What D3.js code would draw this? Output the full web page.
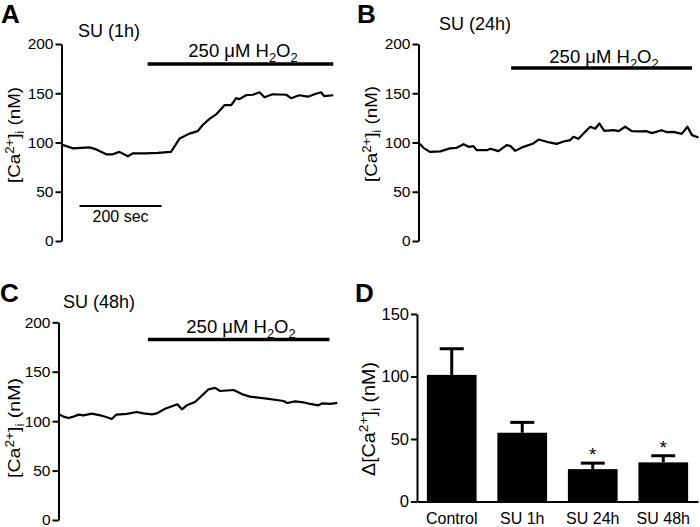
<!DOCTYPE html>
<html><head><meta charset="utf-8">
<script src="https://cdn.jsdelivr.net/npm/d3@7/dist/d3.min.js"></script>
<style>body{margin:0;background:#fff}svg{display:block}</style>
</head><body>
<svg id="c" width="700" height="527"></svg>
<script>
// ---------- data ----------
const tracesTicks = [0, 50, 100, 150, 200];
const barTicks = [0, 50, 100, 150];

// Panel A: SU (1h) — time (s), [Ca2+]i (nM)
const timeA = [0,28,68,85,109,125,141,162,174,206,235,267,288,312,332,345,361,377,398,414,426,434,450,467,483,495,515,548,560,580,601,617,633,641,663];
const caA   = [98,94,95,93,88,88,90.5,86,89,89,89.5,90.5,104,109,111.5,118,124,128.5,138,138,145,144,148,148.5,151,146,149,148.5,145,148,146.5,149,151,147,148];
// Panel B: SU (24h)
const timeB = [0,12,28,53,77,93,110,122,134,142,167,175,195,215,225,236,256,280,293,313,337,354,370,378,390,402,419,431,441,453,476,488,504,520,541,557,569,593,606,622,642,656,667,683];
const caB   = [99.7,94.6,90.5,91,94,94.6,98.3,95.6,96.3,92.2,92.2,93.6,91.2,97.3,96.3,91.5,95.6,99,103,100.7,98.6,101,102.4,105.8,103.7,109,116,114,119.3,111.9,112.5,111.5,116,111.5,111.2,111.5,109.5,112.5,110.5,110.8,108.8,116,107.5,105];
// Panel C: SU (48h)
const timeC = [0,12,24,37,49,61,81,102,118,130,141,167,191,207,228,240,260,285,290,301,313,333,350,366,382,394,427,451,467,508,532,549,558,577,598,614,634,643,663,680];
const caC   = [107.3,104.6,103.2,104.6,106.6,105.9,107.6,105.9,103.9,102.2,106.6,107.3,109.3,107.9,106.9,107.9,112.6,116.4,117,112,116,119.4,126,132.2,133.6,130.5,131.5,126.8,124.8,122.8,121.4,120.4,118.4,120,119,117.4,116,118,117.4,118.4];

// H2O2 application windows (s)
const h2o2A = [210, 663];
const h2o2B = [226, 667];
const h2o2C = [218, 661];
const scaleBarSec = [44, 244]; // 200 sec

// Panel D
const categories = ["Control", "SU 1h", "SU 24h", "SU 48h"];
const barMeans = [101.3, 55, 25.9, 31.3];
const barSEM = [20.9, 8.3, 4.8, 5.3];
const barSig = ["", "", "*", "*"];

// ---------- helpers ----------
const FONT = "'Liberation Sans', Arial, Helvetica, sans-serif";
const svg = d3.select("#c");

function rich(textSel, parts, fs) {
  let cur = 0;
  parts.forEach(p => {
    const target = p.sup ? -0.38 * fs : p.sub ? 0.25 * fs : 0;
    textSel.append("tspan").attr("dy", target - cur)
      .attr("font-size", (p.sup || p.sub) ? fs * 0.7 : fs).text(p.t);
    cur = target;
  });
}
const caParts = [{t:"[Ca"},{t:"2+",sup:true},{t:"]"},{t:"i",sub:true},{t:" (nM)"}];
const h2o2Parts = [{t:"250 \u03bcM H"},{t:"2",sub:true},{t:"O"},{t:"2",sub:true}];

function styleAxis(g, fs) {
  g.selectAll("path.domain").attr("stroke", "#000").attr("stroke-width", 2);
  g.selectAll(".tick line").attr("stroke", "#000").attr("stroke-width", 2);
  g.selectAll(".tick text").attr("fill", "#000").attr("font-family", FONT).attr("font-size", fs);
}

function yLabel(g, x, y, len, parts, fs) {
  const t = g.append("text").attr("transform", `translate(${x},${y}) rotate(-90)`)
    .attr("text-anchor", "middle").attr("font-family", FONT).attr("font-size", fs)
    .attr("textLength", len).attr("lengthAdjust", "spacingAndGlyphs");
  rich(t, parts, fs);
}

function tracePanel(cfg) {
  const y = d3.scaleLinear().domain([0, 200]).range([cfg.yBot, cfg.yTop]);
  const x = d3.scaleLinear().domain([0, 1000]).range([cfg.axisX, cfg.axisX + 410]);
  const g = svg.append("g");
  const ax = g.append("g").attr("transform", `translate(${cfg.axisX},0)`)
    .call(d3.axisLeft(y).tickValues(tracesTicks).tickFormat(d3.format("d")).tickSize(6).tickSizeOuter(0).tickPadding(2));
  styleAxis(ax, 15.5);
  const pts = cfg.time.map((t, i) => [t, cfg.ca[i]]);
  g.append("path").datum(pts)
    .attr("d", d3.line().x(d => x(d[0])).y(d => y(d[1])))
    .attr("fill", "none").attr("stroke", "#000").attr("stroke-width", 2.2).attr("stroke-linejoin", "round");
  g.append("line").attr("x1", x(cfg.h2o2[0])).attr("x2", x(cfg.h2o2[1]))
    .attr("y1", cfg.barY).attr("y2", cfg.barY).attr("stroke", "#000").attr("stroke-width", 3.5);
  const ht = g.append("text").attr("x", cfg.h2o2TextX).attr("y", cfg.h2o2TextY)
    .attr("text-anchor", "middle").attr("font-family", FONT).attr("font-size", 18.5);
  rich(ht, h2o2Parts, 18.5);
  g.append("text").attr("x", cfg.titleX).attr("y", cfg.titleY)
    .attr("font-family", FONT).attr("font-size", 18).text(cfg.title);
  g.append("text").attr("x", cfg.letterX).attr("y", cfg.letterY)
    .attr("font-family", FONT).attr("font-size", 26).attr("font-weight", "bold").text(cfg.letter);
  yLabel(g, cfg.ylabX, cfg.ylabY, cfg.ylabLen, caParts, 17);
  return {x, y, g};
}

const A = tracePanel({axisX: 61.5, yTop: 44, yBot: 241, time: timeA, ca: caA, h2o2: h2o2A, barY: 64,
  h2o2TextX: 243, h2o2TextY: 57, title: "SU (1h)", titleX: 78, titleY: 37, letter: "A", letterX: 1, letterY: 23,
  ylabX: 20, ylabY: 135, ylabLen: 96});
A.g.append("line").attr("x1", A.x(scaleBarSec[0])).attr("x2", A.x(scaleBarSec[1]))
  .attr("y1", 206).attr("y2", 206).attr("stroke", "#000").attr("stroke-width", 2);
A.g.append("text").attr("x", (A.x(scaleBarSec[0]) + A.x(scaleBarSec[1])) / 2).attr("y", 222)
  .attr("text-anchor", "middle").attr("font-family", FONT).attr("font-size", 16).text("200 sec");

tracePanel({axisX: 418.5, yTop: 44, yBot: 241, time: timeB, ca: caB, h2o2: h2o2B, barY: 68,
  h2o2TextX: 604, h2o2TextY: 63, title: "SU (24h)", titleX: 439, titleY: 30, letter: "B", letterX: 357, letterY: 23,
  ylabX: 377, ylabY: 134, ylabLen: 96});

tracePanel({axisX: 58.5, yTop: 322.3, yBot: 520, time: timeC, ca: caC, h2o2: h2o2C, barY: 339.5,
  h2o2TextX: 241, h2o2TextY: 333, title: "SU (48h)", titleX: 63, titleY: 308, letter: "C", letterX: 0, letterY: 302,
  ylabX: 20, ylabY: 428, ylabLen: 100});

// ---------- Panel D ----------
(function () {
  const g = svg.append("g");
  const y = d3.scaleLinear().domain([0, 150]).range([501.5, 314]);
  const x = d3.scaleBand().domain(categories).range([417, 698]).paddingInner(0.295).paddingOuter(0.14);
  const ay = g.append("g").attr("transform", "translate(417,0)")
    .call(d3.axisLeft(y).tickValues(barTicks).tickSize(6).tickSizeOuter(0).tickPadding(2));
  styleAxis(ay, 16.5);
  const ax = g.append("g").attr("transform", "translate(0,501.5)")
    .call(d3.axisBottom(x).tickSize(0).tickSizeOuter(0).tickPadding(11));
  styleAxis(ax, 16);
  const data = categories.map((c, i) => ({c, m: barMeans[i], e: barSEM[i], s: barSig[i]}));
  g.selectAll("rect.bar").data(data).enter().append("rect").attr("class", "bar")
    .attr("x", d => x(d.c)).attr("width", x.bandwidth())
    .attr("y", d => y(d.m)).attr("height", d => y(0) - y(d.m)).attr("fill", "#000");
  const cx = d => x(d.c) + x.bandwidth() / 2;
  g.selectAll("line.err").data(data).enter().append("line").attr("class", "err")
    .attr("x1", cx).attr("x2", cx).attr("y1", d => y(d.m)).attr("y2", d => y(d.m + d.e))
    .attr("stroke", "#000").attr("stroke-width", 3);
  g.selectAll("line.cap").data(data).enter().append("line").attr("class", "cap")
    .attr("x1", d => cx(d) - 12).attr("x2", d => cx(d) + 12)
    .attr("y1", d => y(d.m + d.e)).attr("y2", d => y(d.m + d.e))
    .attr("stroke", "#000").attr("stroke-width", 3);
  g.selectAll("text.sig").data(data.filter(d => d.s)).enter().append("text").attr("class", "sig")
    .attr("x", cx).attr("y", d => y(d.m + d.e) - 2).attr("text-anchor", "middle")
    .attr("font-family", FONT).attr("font-size", 19).text(d => d.s);
  g.append("text").attr("x", 355).attr("y", 302).attr("font-family", FONT).attr("font-size", 26)
    .attr("font-weight", "bold").text("D");
  yLabel(g, 375, 419, 114, [{t:"\u0394[Ca"},{t:"2+",sup:true},{t:"]"},{t:"i",sub:true},{t:" (nM)"}], 18);
})();
</script>
</body></html>
